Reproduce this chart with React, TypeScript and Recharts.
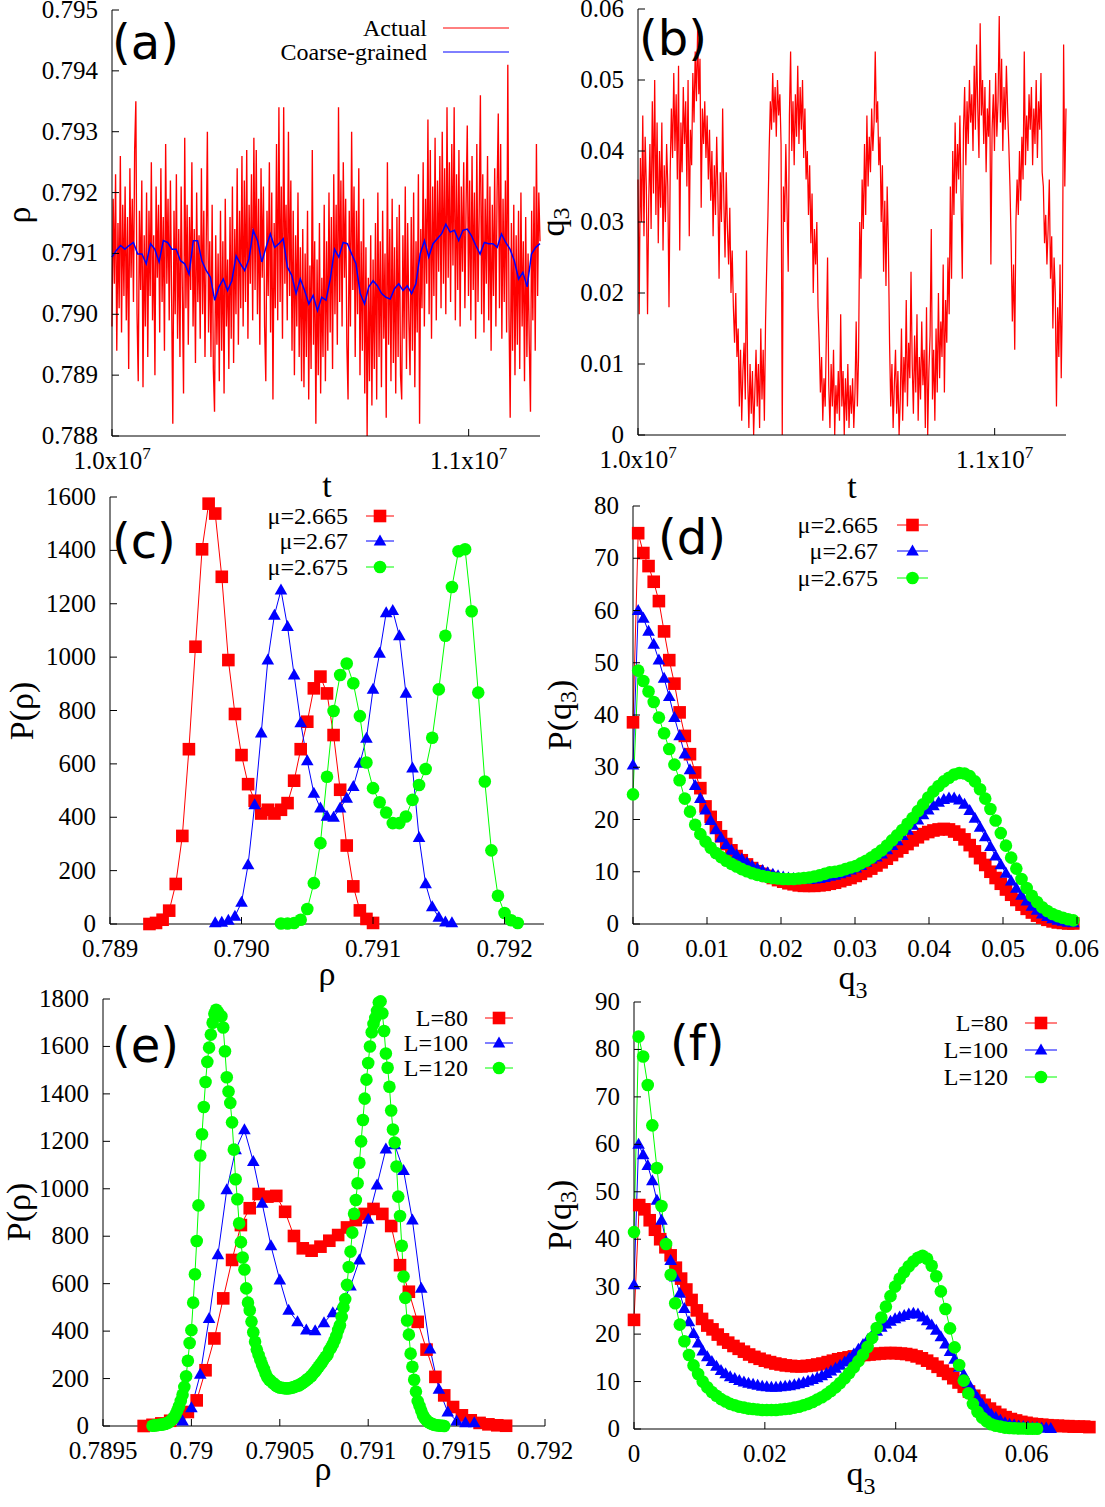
import React from 'react';
import { LineChart, Line, XAxis, YAxis, Label, Legend } from 'recharts';

const SERIF = '"Liberation Serif", "Times New Roman", Times, serif';
const SANS = '"DejaVu Sans", Verdana, sans-serif';
const RED = '#ff0000';
const BLUE = '#0000ff';
const GREEN = '#00ff00';
const INK = '#000000';

// ---------- (a) density time series ----------
const tStart = 1.0e7;
const tEnd = 1.12e7;
const rhoActual = [
  0.7898, 0.7919, 0.7905, 0.7923, 0.7894, 0.7915, 0.7901, 0.7926, 0.7897, 0.7918,
  0.7903, 0.7921, 0.7899, 0.7916, 0.7891, 0.7924, 0.7906, 0.7919, 0.7902, 0.7927,
  0.7935, 0.7900, 0.7889, 0.7917, 0.7904, 0.7922, 0.7888, 0.7913, 0.7898, 0.7920,
  0.7893, 0.7917, 0.7903, 0.7925, 0.7899, 0.7913, 0.7890, 0.7921, 0.7906, 0.7918,
  0.7897, 0.7924, 0.7902, 0.7916, 0.7894, 0.7928, 0.7905, 0.7919, 0.7899, 0.7922,
  0.7903, 0.7882, 0.7917, 0.7900, 0.7923, 0.7896, 0.7914, 0.7893, 0.7921, 0.7904,
  0.7887, 0.7929, 0.7901, 0.7918, 0.7895, 0.7916, 0.7904, 0.7925, 0.7898, 0.7914,
  0.7892, 0.7920, 0.7902, 0.7913, 0.7896, 0.7924, 0.7900, 0.7917, 0.7893, 0.7911,
  0.7930, 0.7897, 0.7912, 0.7893, 0.7918, 0.7891, 0.7884, 0.7913, 0.7895, 0.7910,
  0.7889, 0.7917, 0.7894, 0.7912, 0.7887, 0.7919, 0.7898, 0.7909, 0.7891, 0.7916,
  0.7896, 0.7921, 0.7892, 0.7914, 0.7900, 0.7924, 0.7895, 0.7917, 0.7901, 0.7926,
  0.7898, 0.7922, 0.7902, 0.7927, 0.7896, 0.7918, 0.7905, 0.7923, 0.7899, 0.7929,
  0.7904, 0.7927, 0.7900, 0.7919, 0.7895, 0.7924, 0.7906, 0.7921, 0.7898, 0.7889,
  0.7917, 0.7903, 0.7925, 0.7897, 0.7920, 0.7886, 0.7915, 0.7901, 0.7928, 0.7899,
  0.7934, 0.7902, 0.7921, 0.7896, 0.7934, 0.7905, 0.7918, 0.7899, 0.7930, 0.7903,
  0.7922, 0.7894, 0.7917, 0.7890, 0.7913, 0.7898, 0.7920, 0.7893, 0.7911, 0.7889,
  0.7914, 0.7888, 0.7910, 0.7893, 0.7917, 0.7886, 0.7908, 0.7891, 0.7927, 0.7895,
  0.7912, 0.7882, 0.7909, 0.7890, 0.7915, 0.7887, 0.7906, 0.7893, 0.7918, 0.7889,
  0.7912, 0.7894, 0.7920, 0.7897, 0.7916, 0.7891, 0.7923, 0.7900, 0.7918, 0.7895,
  0.7934, 0.7902, 0.7922, 0.7898, 0.7925, 0.7906, 0.7919, 0.7895, 0.7886, 0.7917,
  0.7898, 0.7930, 0.7904, 0.7921, 0.7893, 0.7917, 0.7900, 0.7924, 0.7890, 0.7912,
  0.7894, 0.7919, 0.7887, 0.7911, 0.7880, 0.7906, 0.7889, 0.7913, 0.7885, 0.7909,
  0.7891, 0.7915, 0.7886, 0.7920, 0.7893, 0.7912, 0.7888, 0.7917, 0.7896, 0.7910,
  0.7883, 0.7925, 0.7895, 0.7914, 0.7889, 0.7919, 0.7892, 0.7911, 0.7887, 0.7916,
  0.7893, 0.7918, 0.7890, 0.7886, 0.7913, 0.7896, 0.7921, 0.7891, 0.7915, 0.7899,
  0.7890, 0.7916, 0.7894, 0.7920, 0.7888, 0.7912, 0.7897, 0.7923, 0.7882, 0.7914,
  0.7901, 0.7925, 0.7898, 0.7919, 0.7905, 0.7932, 0.7900, 0.7927, 0.7896, 0.7921,
  0.7903, 0.7929, 0.7899, 0.7922, 0.7907, 0.7926, 0.7901, 0.7930, 0.7905, 0.7924,
  0.7900, 0.7934, 0.7906, 0.7925, 0.7902, 0.7928, 0.7908, 0.7934, 0.7899, 0.7923,
  0.7904, 0.7927, 0.7898, 0.7921, 0.7907, 0.7925, 0.7901, 0.7918, 0.7931, 0.7903,
  0.7922, 0.7899, 0.7926, 0.7904, 0.7920, 0.7896, 0.7928, 0.7902, 0.7917, 0.7936,
  0.7900, 0.7923, 0.7897, 0.7919, 0.7905, 0.7926, 0.7899, 0.7921, 0.7894, 0.7918,
  0.7903, 0.7924, 0.7898, 0.7920, 0.7933, 0.7901, 0.7928, 0.7896, 0.7919, 0.7902,
  0.7922, 0.7897, 0.7941, 0.7900, 0.7883, 0.7915, 0.7894, 0.7918, 0.7890, 0.7913,
  0.7895, 0.7917, 0.7891, 0.7920, 0.7898, 0.7912, 0.7889, 0.7916, 0.7893, 0.7910,
  0.7895, 0.7884, 0.7917, 0.7899, 0.7921, 0.7894, 0.7928, 0.7903, 0.7920, 0.7912,
];
const rhoCoarse = [
  0.79094, 0.79105, 0.79113, 0.79107, 0.79113, 0.79118, 0.79099, 0.79099, 0.79083, 0.79116,
  0.79107, 0.79086, 0.79121, 0.79118, 0.79107, 0.79107, 0.79088, 0.79083, 0.79066, 0.79121,
  0.79121, 0.79088, 0.79072, 0.79061, 0.79023, 0.79045, 0.79058, 0.79039, 0.79055, 0.79096,
  0.79083, 0.79072, 0.79091, 0.79138, 0.79121, 0.79086, 0.79110, 0.79132, 0.79110, 0.79116,
  0.79124, 0.79077, 0.79064, 0.79034, 0.79058, 0.79039, 0.79017, 0.79031, 0.79006, 0.79028,
  0.79023, 0.79058, 0.79107, 0.79094, 0.79118, 0.79116, 0.79099, 0.79083, 0.79034, 0.79017,
  0.79045, 0.79055, 0.79047, 0.79034, 0.79028, 0.79025, 0.79042, 0.79050, 0.79039, 0.79047,
  0.79034, 0.79050, 0.79099, 0.79121, 0.79094, 0.79116, 0.79124, 0.79132, 0.79148, 0.79135,
  0.79138, 0.79121, 0.79138, 0.79140, 0.79129, 0.79113, 0.79099, 0.79118, 0.79116, 0.79116,
  0.79110, 0.79132, 0.79118, 0.79107, 0.79088, 0.79058, 0.79069, 0.79045, 0.79099, 0.79110,
  0.79116,
];

// ---------- (b) q3 time series ----------
const q3Actual = [
  0.036, 0.017, 0.039, 0.030, 0.045, 0.028, 0.042, 0.035, 0.017, 0.033,
  0.041, 0.029, 0.047, 0.034, 0.050, 0.031, 0.044, 0.027, 0.040, 0.032,
  0.044, 0.026, 0.038, 0.030, 0.041, 0.035, 0.018, 0.037, 0.046, 0.039,
  0.051, 0.040, 0.048, 0.036, 0.052, 0.026, 0.044, 0.037, 0.049, 0.041,
  0.047, 0.035, 0.050, 0.028, 0.043, 0.038, 0.051, 0.044, 0.054, 0.047,
  0.057, 0.048, 0.053, 0.032, 0.046, 0.041, 0.047, 0.039, 0.045, 0.036,
  0.043, 0.033, 0.040, 0.028, 0.038, 0.031, 0.042, 0.034, 0.022, 0.037,
  0.030, 0.046, 0.033, 0.025, 0.037, 0.029, 0.024, 0.032, 0.020, 0.026,
  0.018, 0.013, 0.020, 0.011, 0.015, 0.004, 0.012, 0.002, 0.009, 0.013,
  0.005, 0.026, 0.008, 0.001, 0.010, 0.003, 0.009, 0.000, 0.006, 0.012,
  0.004, 0.010, 0.001, 0.015, 0.005, 0.012, 0.002, 0.016, 0.024, 0.031,
  0.040, 0.047, 0.043, 0.051, 0.044, 0.049, 0.042, 0.050, 0.045, 0.048,
  0.041, 0.000, 0.035, 0.030, 0.041, 0.032, 0.023, 0.045, 0.054, 0.040,
  0.047, 0.038, 0.048, 0.042, 0.052, 0.041, 0.049, 0.043, 0.050, 0.039,
  0.046, 0.036, 0.040, 0.031, 0.038, 0.027, 0.034, 0.020, 0.029, 0.024,
  0.030, 0.018, 0.013, 0.006, 0.011, 0.002, 0.008, 0.004, 0.014, 0.025,
  0.007, 0.001, 0.010, 0.004, 0.012, 0.000, 0.007, 0.003, 0.009, 0.002,
  0.017, 0.004, 0.009, 0.000, 0.008, 0.002, 0.010, 0.001, 0.007, 0.003,
  0.008, 0.001, 0.006, 0.016, 0.004, 0.011, 0.030, 0.022, 0.036, 0.029,
  0.041, 0.031, 0.045, 0.035, 0.042, 0.037, 0.046, 0.040, 0.044, 0.054,
  0.044, 0.047, 0.038, 0.042, 0.030, 0.038, 0.023, 0.033, 0.021, 0.035,
  0.027, 0.013, 0.004, 0.010, 0.001, 0.007, 0.012, 0.003, 0.009, 0.000,
  0.005, 0.015, 0.002, 0.011, 0.006, 0.019, 0.004, 0.013, 0.008, 0.023,
  0.010, 0.003, 0.014, 0.006, 0.017, 0.002, 0.011, 0.005, 0.016, 0.007,
  0.012, 0.001, 0.018, 0.000, 0.009, 0.014, 0.029, 0.005, 0.012, 0.002,
  0.015, 0.006, 0.020, 0.008, 0.016, 0.011, 0.024, 0.006, 0.019, 0.013,
  0.025, 0.017, 0.035, 0.022, 0.040, 0.031, 0.044, 0.034, 0.041, 0.036,
  0.045, 0.033, 0.022, 0.043, 0.049, 0.038, 0.047, 0.041, 0.050, 0.044,
  0.048, 0.040, 0.052, 0.043, 0.055, 0.046, 0.039, 0.058, 0.045, 0.050,
  0.041, 0.049, 0.037, 0.046, 0.042, 0.050, 0.024, 0.043, 0.048, 0.040,
  0.051, 0.042, 0.047, 0.059, 0.044, 0.053, 0.040, 0.049, 0.043, 0.052,
  0.046, 0.041, 0.035, 0.027, 0.016, 0.024, 0.012, 0.030, 0.036, 0.031,
  0.040, 0.033, 0.042, 0.036, 0.054, 0.038, 0.045, 0.040, 0.048, 0.043,
  0.049, 0.038, 0.046, 0.041, 0.050, 0.039, 0.047, 0.043, 0.051, 0.037,
  0.035, 0.027, 0.031, 0.024, 0.029, 0.036, 0.022, 0.028, 0.015, 0.025,
  0.020, 0.004, 0.018, 0.011, 0.024, 0.008, 0.020, 0.055, 0.035, 0.046,
];

// ---------- (c) P(rho) for three mu ----------
const rhoBinC = 0.00005;
const rhoFirstMu2665 = 0.7893;
const pRhoMu2665 = [
  0, 4, 16, 50, 150, 330, 655, 1039, 1404, 1575, 1538, 1301, 989, 787, 633, 524, 462, 414,
  428, 414, 428, 453, 537, 655, 758, 883, 927, 864, 708, 503, 294, 141, 51, 19, 4,
];
const rhoFirstMu267 = 0.7898;
const pRhoMu267 = [
  4, 6, 14, 29, 81, 222, 446, 715, 989, 1157, 1251, 1114, 933, 754, 611, 490, 434, 403, 400,
  434, 471, 515, 602, 696, 879, 1014, 1166, 1174, 1080, 864, 584, 324, 150, 64, 25, 7, 4,
];
const rhoFirstMu2675 = 0.7903;
const pRhoMu2675 = [
  2, 2, 4, 16, 56, 153, 303, 552, 798, 933, 976, 902, 779, 605, 509, 456, 418, 378, 378,
  403, 465, 521, 581, 698, 879, 1080, 1263, 1397, 1404, 1172, 867, 534, 276, 106, 41, 14, 4,
];

// ---------- (d) P(q3) for three mu ----------
const q3BinD = 0.0007;
const pQ3Mu2665 = [
  38.6, 74.8, 71, 68.5, 65.5, 61.8, 56, 50.5, 46, 40.5,
  36, 32.5, 29, 26, 22.5, 20.5, 18.5, 16.8, 15.3, 14.1,
  13, 12.2, 11.4, 10.7, 10.1, 9.6, 9.2, 8.8, 8.4, 8.1,
  7.8, 7.6, 7.4, 7.3, 7.3, 7.3, 7.4, 7.5, 7.7, 7.9,
  8.2, 8.5, 8.8, 9.2, 9.6, 10.1, 10.6, 11.2, 11.8, 12.5,
  13.2, 13.9, 14.6, 15.3, 16, 16.6, 17.2, 17.6, 17.9, 18.1,
  18.2, 18.1, 17.7, 17.1, 16.2, 15.1, 13.9, 12.6, 11.3, 10,
  8.8, 7.7, 6.6, 5.6, 4.6, 3.7, 2.9, 2.2, 1.6, 1.2,
  0.8, 0.5, 0.3, 0.2, 0.1, 0.1,
];
const pQ3Mu267 = [
  30.4, 60, 58.5, 56, 53.5, 50.5, 47, 43.5, 39.5, 36,
  32.5, 29.5, 26.5, 24, 21.8, 19.8, 18, 16.5, 15.2, 14.1,
  13.2, 12.4, 11.7, 11.1, 10.6, 10.2, 9.8, 9.5, 9.2, 9.0,
  8.8, 8.7, 8.6, 8.5, 8.5, 8.6, 8.7, 8.9, 9.1, 9.3,
  9.6, 9.9, 10.3, 10.7, 11.2, 11.8, 12.4, 12.8, 13.4, 14.2,
  15.0, 15.9, 16.9, 17.9, 18.9, 19.9, 20.9, 21.8, 22.6, 23.3,
  23.8, 24.1, 24.1, 23.7, 22.9, 21.7, 20.2, 18.5, 16.7, 14.8,
  13.0, 11.3, 9.7, 8.2, 6.8, 5.5, 4.4, 3.4, 2.6, 1.9,
  1.4, 1.0, 0.7, 0.5, 0.3, 0.2,
];
const pQ3Mu2675 = [
  24.8, 48.5, 46.5, 44.5, 42.5, 39.5, 36.5, 33.5, 30.5, 27.5,
  24, 21.5, 19, 17.2, 15.8, 14.6, 13.6, 12.8, 12.1, 11.5,
  11.0, 10.5, 10.1, 9.7, 9.4, 9.2, 9.0, 8.8, 8.7, 8.6,
  8.6, 8.6, 8.7, 8.8, 8.9, 9.1, 9.3, 9.6, 9.9, 10.0,
  10.2, 10.5, 10.8, 11.1, 11.6, 12.1, 12.7, 13.4, 14.1, 15.0,
  16.0, 17.0, 18.0, 19.2, 20.3, 21.6, 22.9, 24.2, 25.4, 26.4,
  27.3, 28.0, 28.6, 28.9, 28.8, 28.3, 27.3, 25.8, 24.0, 22.0,
  19.8, 17.4, 15.0, 12.7, 10.6, 8.6, 6.9, 5.4, 4.2, 3.2,
  2.5, 1.9, 1.5, 1.2, 0.9, 0.7,
];

// ---------- (e) P(rho) for three system sizes ----------
const rhoFirstL80 = 0.78973;
const rhoBinL80 = 0.00005;
const pRhoL80 = [
  0, 5, 11, 22, 36, 59, 108, 235, 369, 538, 700, 847, 918, 978, 967, 970, 903, 801, 749, 739,
  756, 781, 805, 837, 868, 894, 915, 894, 843, 678, 566, 439, 322, 207, 129, 80, 45, 24, 13, 7,
  3, 1,
];
const rhoFirstL100 = 0.78995;
const rhoBinL100 = 0.00005;
const pRhoL100 = [
  21, 77, 218, 453, 721, 995, 1164, 1248, 1115, 939, 759, 615, 488, 439, 404, 401, 435, 477,
  509, 590, 699, 871, 1016, 1167, 1185, 1077, 868, 580, 324, 155, 59, 21, 13, 13,
];
const rhoFirstL120 = 0.78978;
const rhoBinL120 = 0.00001;
const pRhoL120 = [
  1, 2, 3, 4, 5, 6, 7, 9, 11, 15,
  20, 27, 35, 48, 65, 83, 106, 132, 165, 210,
  275, 350, 404, 520, 640, 780, 930, 1140, 1230, 1345,
  1450, 1535, 1595, 1650, 1700, 1738, 1755, 1745, 1732, 1727,
  1680, 1580, 1470, 1410, 1362, 1280, 1165, 1040, 956, 854,
  775, 710, 660, 580, 520, 488, 440, 395, 355, 322,
  300, 278, 258, 240, 220, 205, 195, 189, 182, 176,
  170, 165, 162, 161, 160, 159, 158, 159, 160, 162,
  164, 167, 170, 172, 177, 182, 187, 193, 199, 205,
  212, 222, 230, 240, 250, 260, 270, 282, 292, 300,
  320, 330, 345, 362, 380, 405, 425, 460, 500, 535,
  595, 670, 735, 815, 895, 953, 1023, 1110, 1200, 1290,
  1380, 1460, 1530, 1600, 1660, 1695, 1720, 1750, 1785, 1790,
  1740, 1665, 1570, 1510, 1430, 1330, 1250, 1195, 1094, 967,
  885, 760, 630, 540, 445, 385, 305, 250, 195, 145,
  105, 85, 65, 45, 33, 24, 17, 12, 9, 6,
  4, 3, 2, 1, 1, 0,
];

// ---------- (f) P(q3) for three system sizes ----------
const q3BinL80 = 0.0008;
const pQ3L80 = [
  23, 47.2, 46.3, 44, 42, 40, 38.3, 36.6, 34, 31.7,
  29.4, 27.2, 25, 23.2, 21.8, 21, 19.9, 18.9, 18.2, 17.5,
  16.9, 16.3, 15.7, 15.2, 14.8, 14.4, 14.1, 13.8, 13.6, 13.4,
  13.3, 13.2, 13.2, 13.3, 13.4, 13.6, 13.8, 14.1, 14.4, 14.7,
  14.9, 15.1, 15.3, 15.4, 15.6, 15.7, 15.8, 15.9, 16, 16,
  16, 15.9, 15.8, 15.6, 15.3, 14.9, 14.4, 13.8, 13.1, 12.3,
  11.6, 10.7, 9.8, 8.9, 7.9, 7, 6, 5.1, 4.3, 3.6,
  3, 2.5, 2.1, 1.8, 1.5, 1.3, 1.1, 1, 0.9, 0.8,
  0.7, 0.7, 0.6, 0.6, 0.5, 0.5, 0.5, 0.4,
];
const q3BinL100 = 0.0007;
const pQ3L100 = [
  30.4, 60, 57.8, 55.5, 52.3, 48.2, 44, 39.5, 35.5, 32,
  28.6, 25.4, 22.6, 20.1, 18.1, 16.4, 15.2, 14.2, 13.2, 12.3,
  11.6, 11.0, 10.6, 10.2, 9.9, 9.6, 9.4, 9.2, 9.0, 8.9,
  8.8, 8.8, 8.9, 9.0, 9.1, 9.3, 9.5, 9.8, 10.1, 10.4,
  10.8, 11.2, 11.7, 12.2, 12.8, 13.4, 14.1, 14.9, 15.8, 16.8,
  17.8, 18.8, 19.8, 20.6, 21.4, 22.1, 22.7, 23.2, 23.6, 23.9,
  24.2, 24.4, 24.2, 23.6, 22.8, 21.9, 20.8, 19.4, 17.9, 16.3,
  14.7, 13, 11.4, 9.6, 8, 6.5, 5.2, 4.1, 3.1, 2.4,
  1.8, 1.3, 1.0, 0.8, 0.6, 0.5, 0.4, 0.3, 0.3, 0.2,
  0.2, 0.1,
];
const q3BinL120 = 0.0007;
const pQ3L120 = [
  41.5, 82.7, 78.5, 72.5, 64, 55, 47, 39, 32.5, 26.5,
  22, 18.5, 15.6, 13.4, 11.6, 10, 8.8, 7.8, 7.0, 6.3,
  5.8, 5.3, 5.0, 4.7, 4.5, 4.3, 4.2, 4.1, 4.0, 4.0,
  4.0, 4.0, 4.1, 4.2, 4.3, 4.5, 4.7, 5.0, 5.3, 5.7,
  6.2, 6.7, 7.3, 8.0, 8.8, 9.7, 10.7, 11.8, 13.0, 14.3,
  15.7, 17.3, 19.2, 21.3, 23.5, 25.8, 28, 30, 31.7, 33.1,
  34.3, 35.3, 36.1, 36.5, 35.9, 34.4, 32.2, 29, 25.3, 21.2,
  17.2, 13.5, 10.2, 7.5, 5.3, 3.6, 2.4, 1.6, 1.0, 0.7,
  0.5, 0.3, 0.2, 0.15, 0.1, 0.1, 0.05, 0.05, 0.05,
];

// ---------- tick values and labels ----------
const tTicks = [1.0e7, 1.1e7];
const tTickMantissas = ['1.0x10', '1.1x10'];
const tTickExponent = '7';
const rhoTicksA = [0.788, 0.789, 0.79, 0.791, 0.792, 0.793, 0.794, 0.795];
const rhoTickLabelsA = ['0.788', '0.789', '0.790', '0.791', '0.792', '0.793', '0.794', '0.795'];
const q3TicksB = [0, 0.01, 0.02, 0.03, 0.04, 0.05, 0.06];
const q3TickLabelsB = ['0', '0.01', '0.02', '0.03', '0.04', '0.05', '0.06'];
const rhoTicksC = [0.789, 0.79, 0.791, 0.792];
const rhoTickLabelsC = ['0.789', '0.790', '0.791', '0.792'];
const pTicksC = [0, 200, 400, 600, 800, 1000, 1200, 1400, 1600];
const pTickLabelsC = ['0', '200', '400', '600', '800', '1000', '1200', '1400', '1600'];
const q3TicksD = [0, 0.01, 0.02, 0.03, 0.04, 0.05, 0.06];
const q3TickLabelsD = ['0', '0.01', '0.02', '0.03', '0.04', '0.05', '0.06'];
const pTicksD = [0, 10, 20, 30, 40, 50, 60, 70, 80];
const pTickLabelsD = ['0', '10', '20', '30', '40', '50', '60', '70', '80'];
const rhoTicksE = [0.7895, 0.79, 0.7905, 0.791, 0.7915, 0.792];
const rhoTickLabelsE = ['0.7895', '0.79', '0.7905', '0.791', '0.7915', '0.792'];
const pTicksE = [0, 200, 400, 600, 800, 1000, 1200, 1400, 1600, 1800];
const pTickLabelsE = ['0', '200', '400', '600', '800', '1000', '1200', '1400', '1600', '1800'];
const q3TicksF = [0, 0.02, 0.04, 0.06];
const q3TickLabelsF = ['0', '0.02', '0.04', '0.06'];
const pTicksF = [0, 10, 20, 30, 40, 50, 60, 70, 80, 90];
const pTickLabelsF = ['0', '10', '20', '30', '40', '50', '60', '70', '80', '90'];

// ---------- helpers ----------
type Pt = { x: number; y: number };
type Marker = 'square' | 'triangle' | 'circle' | 'none';
type Series = { name: string; color: string; marker: Marker; width: number; data: Pt[] };
type Title = { node: React.ReactNode; x: number; y: number };
type PanelSpec = {
  plot: { left: number; top: number; width: number; height: number };
  xDomain: [number, number];
  xTicks: number[];
  xLabels: React.ReactNode[];
  yDomain: [number, number];
  yTicks: number[];
  yLabels: string[];
  series: Series[];
  letter: { text: string; x: number; y: number };
  xTitle: Title;
  yTitle: Title;
  legend?: { textRight: number; rowY: number[]; lineX1: number; lineX2: number };
};

const timed = (values: number[]): Pt[] =>
  values.map((y, i) => ({ x: tStart + (i * (tEnd - tStart)) / (values.length - 1), y }));
const binned = (first: number, step: number, values: number[]): Pt[] =>
  values.map((y, i) => ({ x: +(first + i * step).toFixed(8), y }));

const tLabels = tTickMantissas.map((m) => (
  <>
    {m}
    <tspan dy={-10} fontSize={17}>{tTickExponent}</tspan>
  </>
));
const q3Title = (
  <>
    q<tspan dy={9} fontSize={24}>3</tspan>
  </>
);
const pq3Title = (
  <>
    P(q<tspan dy={9} fontSize={24}>3</tspan>
    <tspan dy={-9}>)</tspan>
  </>
);

function MarkerShape({ kind, cx, cy, color }: { kind: Marker; cx: number; cy: number; color: string }) {
  if (kind === 'square') return <rect x={cx - 6.3} y={cy - 6.3} width={12.6} height={12.6} fill={color} />;
  if (kind === 'triangle')
    return <polygon points={`${cx},${cy - 6.6} ${cx + 6.3},${cy + 4.4} ${cx - 6.3},${cy + 4.4}`} fill={color} />;
  if (kind === 'circle') return <circle cx={cx} cy={cy} r={6.3} fill={color} />;
  return null;
}

const LW = 120;
const MT = 16;
const MR = 30;
const BH = 80;
const TICK = 7;
const TICK_FONT = 25;
const serifStyle = { fontFamily: SERIF };

function Panel({ spec }: { spec: PanelSpec }) {
  const { plot, legend } = spec;
  const chartLeft = plot.left - LW;
  const chartTop = plot.top - MT;
  const cw = LW + plot.width + MR;
  const ch = MT + plot.height + BH;
  const sx = (x: number) => x - chartLeft;
  const sy = (y: number) => y - chartTop;
  const plotTop = MT;
  const plotBottom = MT + plot.height;
  const plotLeft = LW;
  const plotRight = LW + plot.width;
  const findIdx = (ticks: number[], v: number) => ticks.findIndex((t) => Math.abs(t - v) < 1e-9);

  const bottomTick = (p: any) => {
    const i = findIdx(spec.xTicks, p.payload?.value);
    return (
      <g>
        <line x1={p.x} x2={p.x} y1={plotBottom} y2={plotBottom - TICK} stroke={INK} strokeWidth={1} />
        <text x={p.x} y={plotBottom + 33} textAnchor="middle" fontFamily={SERIF} style={serifStyle} fontSize={TICK_FONT} fill={INK}>
          {i >= 0 ? spec.xLabels[i] : null}
        </text>
      </g>
    );
  };
  const topTick = (p: any) => (
    <line x1={p.x} x2={p.x} y1={plotTop} y2={plotTop + TICK} stroke={INK} strokeWidth={1} />
  );
  const leftTick = (p: any) => {
    const i = findIdx(spec.yTicks, p.payload?.value);
    return (
      <g>
        <line x1={plotLeft} x2={plotLeft + TICK} y1={p.y} y2={p.y} stroke={INK} strokeWidth={1} />
        <text x={plotLeft - 14} y={p.y + 8} textAnchor="end" fontFamily={SERIF} style={serifStyle} fontSize={TICK_FONT} fill={INK}>
          {i >= 0 ? spec.yLabels[i] : null}
        </text>
      </g>
    );
  };
  const rightTick = (p: any) => (
    <line x1={plotRight} x2={plotRight - TICK} y1={p.y} y2={p.y} stroke={INK} strokeWidth={1} />
  );

  const decorations = () => (
    <g>
      <text x={sx(spec.letter.x)} y={sy(spec.letter.y)} fontFamily={SANS} style={{ fontFamily: SANS }} fontSize={48} fill={INK}>
        {spec.letter.text}
      </text>
      <text x={sx(spec.xTitle.x)} y={sy(spec.xTitle.y)} textAnchor="middle" fontFamily={SERIF} style={serifStyle} fontSize={34} fill={INK}>
        {spec.xTitle.node}
      </text>
      <text
        x={sx(spec.yTitle.x)}
        y={sy(spec.yTitle.y)}
        transform={`rotate(-90 ${sx(spec.yTitle.x)} ${sy(spec.yTitle.y)})`}
        textAnchor="middle"
        dominantBaseline="central"
        fontFamily={SERIF}
        style={serifStyle}
        fontSize={34}
        fill={INK}
      >
        {spec.yTitle.node}
      </text>
    </g>
  );

  const legendContent = () => {
    if (!legend) return null;
    const len = legend.lineX2 - legend.lineX1;
    return (
      <div style={{ position: 'relative', width: cw, height: ch, pointerEvents: 'none' }}>
        {spec.series.map((s, i) => {
          const y = sy(legend.rowY[i]);
          return (
            <React.Fragment key={s.name}>
              <div
                style={{
                  position: 'absolute',
                  left: 0,
                  width: sx(legend.textRight),
                  top: y - 15,
                  height: 30,
                  lineHeight: '30px',
                  textAlign: 'right',
                  fontFamily: SERIF,
                  fontSize: 24,
                  color: INK,
                  whiteSpace: 'nowrap',
                }}
              >
                {s.name}
              </div>
              <svg
                style={{ position: 'absolute', left: sx(legend.lineX1) - 8, top: y - 10, overflow: 'visible' }}
                width={len + 16}
                height={20}
              >
                <line x1={8} x2={8 + len} y1={10} y2={10} stroke={s.color} strokeWidth={1} />
                <MarkerShape kind={s.marker} cx={8 + len / 2} cy={10} color={s.color} />
              </svg>
            </React.Fragment>
          );
        })}
      </div>
    );
  };

  return (
    <div style={{ position: 'absolute', left: chartLeft, top: chartTop, width: cw, height: ch }}>
      <LineChart width={cw} height={ch} margin={{ top: MT, right: MR, bottom: 0, left: 0 }}>
        <XAxis
          xAxisId="bottom"
          dataKey="x"
          type="number"
          orientation="bottom"
          domain={spec.xDomain}
          ticks={spec.xTicks}
          interval={0}
          height={BH}
          tickLine={false}
          tickSize={0}
          tickMargin={0}
          axisLine={{ stroke: INK, strokeWidth: 1 }}
          tick={bottomTick}
        >
          <Label content={decorations} />
        </XAxis>
        <XAxis
          xAxisId="top"
          type="number"
          orientation="top"
          domain={spec.xDomain}
          ticks={spec.xTicks}
          interval={0}
          height={0}
          tickLine={false}
          tickSize={0}
          tickMargin={0}
          axisLine={{ stroke: INK, strokeWidth: 1 }}
          tick={topTick}
        />
        <YAxis
          yAxisId="left"
          type="number"
          orientation="left"
          domain={spec.yDomain}
          ticks={spec.yTicks}
          interval={0}
          width={LW}
          tickLine={false}
          tickSize={0}
          tickMargin={0}
          axisLine={{ stroke: INK, strokeWidth: 1 }}
          tick={leftTick}
        />
        <YAxis
          yAxisId="right"
          type="number"
          orientation="right"
          domain={spec.yDomain}
          ticks={spec.yTicks}
          interval={0}
          width={0}
          tickLine={false}
          tickSize={0}
          tickMargin={0}
          axisLine={{ stroke: INK, strokeWidth: 1 }}
          tick={rightTick}
        />
        {spec.series.map((s) => (
          <Line
            key={s.name}
            name={s.name}
            xAxisId="bottom"
            yAxisId="left"
            data={s.data}
            dataKey="y"
            type="linear"
            stroke={s.color}
            strokeWidth={s.width}
            isAnimationActive={false}
            activeDot={false}
            dot={
              s.marker === 'none'
                ? false
                : (p: any) => (
                    <MarkerShape key={`${s.name}-${p.index}`} kind={s.marker} cx={p.cx} cy={p.cy} color={s.color} />
                  )
            }
          />
        ))}
        {legend ? (
          <Legend
            layout="vertical"
            align="center"
            verticalAlign="middle"
            wrapperStyle={{ position: 'absolute', left: 0, top: 0, width: cw, height: ch, margin: 0, pointerEvents: 'none' }}
            content={legendContent}
          />
        ) : null}
      </LineChart>
    </div>
  );
}

// ---------- panel definitions ----------
const panels: PanelSpec[] = [
  {
    plot: { left: 112, top: 10, width: 428, height: 426 },
    xDomain: [tStart, tEnd],
    xTicks: tTicks,
    xLabels: tLabels,
    yDomain: [0.788, 0.795],
    yTicks: rhoTicksA,
    yLabels: rhoTickLabelsA,
    series: [
      { name: 'Actual', color: RED, marker: 'none', width: 1.35, data: timed(rhoActual) },
      { name: 'Coarse-grained', color: BLUE, marker: 'none', width: 1.5, data: timed(rhoCoarse) },
    ],
    letter: { text: '(a)', x: 112, y: 59 },
    xTitle: { node: 't', x: 327, y: 497 },
    yTitle: { node: 'ρ', x: 18, y: 215 },
    legend: { textRight: 427, rowY: [28, 52], lineX1: 443, lineX2: 509 },
  },
  {
    plot: { left: 638, top: 9, width: 428, height: 426 },
    xDomain: [tStart, tEnd],
    xTicks: tTicks,
    xLabels: tLabels,
    yDomain: [0, 0.06],
    yTicks: q3TicksB,
    yLabels: q3TickLabelsB,
    series: [{ name: 'q3', color: RED, marker: 'none', width: 1.25, data: timed(q3Actual) }],
    letter: { text: '(b)', x: 639, y: 55 },
    xTitle: { node: 't', x: 852, y: 498 },
    yTitle: { node: q3Title, x: 552, y: 222 },
  },
  {
    plot: { left: 110, top: 497, width: 434, height: 427 },
    xDomain: [0.789, 0.7923],
    xTicks: rhoTicksC,
    xLabels: rhoTickLabelsC,
    yDomain: [0, 1600],
    yTicks: pTicksC,
    yLabels: pTickLabelsC,
    series: [
      { name: 'μ=2.665', color: RED, marker: 'square', width: 1, data: binned(rhoFirstMu2665, rhoBinC, pRhoMu2665) },
      { name: 'μ=2.67', color: BLUE, marker: 'triangle', width: 1, data: binned(rhoFirstMu267, rhoBinC, pRhoMu267) },
      { name: 'μ=2.675', color: GREEN, marker: 'circle', width: 1, data: binned(rhoFirstMu2675, rhoBinC, pRhoMu2675) },
    ],
    letter: { text: '(c)', x: 112, y: 558 },
    xTitle: { node: 'ρ', x: 327, y: 985 },
    yTitle: { node: 'P(ρ)', x: 21, y: 711 },
    legend: { textRight: 348, rowY: [516, 541, 567], lineX1: 366, lineX2: 394 },
  },
  {
    plot: { left: 633, top: 506, width: 444, height: 418 },
    xDomain: [0, 0.06],
    xTicks: q3TicksD,
    xLabels: q3TickLabelsD,
    yDomain: [0, 80],
    yTicks: pTicksD,
    yLabels: pTickLabelsD,
    series: [
      { name: 'μ=2.665', color: RED, marker: 'square', width: 1, data: binned(0, q3BinD, pQ3Mu2665) },
      { name: 'μ=2.67', color: BLUE, marker: 'triangle', width: 1, data: binned(0, q3BinD, pQ3Mu267) },
      { name: 'μ=2.675', color: GREEN, marker: 'circle', width: 1, data: binned(0, q3BinD, pQ3Mu2675) },
    ],
    letter: { text: '(d)', x: 658, y: 554 },
    xTitle: { node: q3Title, x: 853, y: 989 },
    yTitle: { node: pq3Title, x: 559, y: 715 },
    legend: { textRight: 878, rowY: [525, 551, 578], lineX1: 897, lineX2: 928 },
  },
  {
    plot: { left: 103, top: 999, width: 442, height: 427 },
    xDomain: [0.7895, 0.792],
    xTicks: rhoTicksE,
    xLabels: rhoTickLabelsE,
    yDomain: [0, 1800],
    yTicks: pTicksE,
    yLabels: pTickLabelsE,
    series: [
      { name: 'L=80', color: RED, marker: 'square', width: 1, data: binned(rhoFirstL80, rhoBinL80, pRhoL80) },
      { name: 'L=100', color: BLUE, marker: 'triangle', width: 1, data: binned(rhoFirstL100, rhoBinL100, pRhoL100) },
      { name: 'L=120', color: GREEN, marker: 'circle', width: 1, data: binned(rhoFirstL120, rhoBinL120, pRhoL120) },
    ],
    letter: { text: '(e)', x: 112, y: 1062 },
    xTitle: { node: 'ρ', x: 323, y: 1480 },
    yTitle: { node: 'P(ρ)', x: 18, y: 1212 },
    legend: { textRight: 468, rowY: [1018, 1043, 1068], lineX1: 485, lineX2: 513 },
  },
  {
    plot: { left: 634, top: 1002, width: 458, height: 427 },
    xDomain: [0, 0.07],
    xTicks: q3TicksF,
    xLabels: q3TickLabelsF,
    yDomain: [0, 90],
    yTicks: pTicksF,
    yLabels: pTickLabelsF,
    series: [
      { name: 'L=80', color: RED, marker: 'square', width: 1, data: binned(0, q3BinL80, pQ3L80) },
      { name: 'L=100', color: BLUE, marker: 'triangle', width: 1, data: binned(0, q3BinL100, pQ3L100) },
      { name: 'L=120', color: GREEN, marker: 'circle', width: 1, data: binned(0, q3BinL120, pQ3L120) },
    ],
    letter: { text: '(f)', x: 670, y: 1060 },
    xTitle: { node: q3Title, x: 861, y: 1485 },
    yTitle: { node: pq3Title, x: 559, y: 1215 },
    legend: { textRight: 1008, rowY: [1023, 1050, 1077], lineX1: 1025, lineX2: 1057 },
  },
];

export default function App() {
  return (
    <div
      style={{
        position: 'absolute',
        left: 0,
        top: 0,
        width: 1105,
        height: 1507,
        background: '#ffffff',
        overflow: 'hidden',
      }}
    >
      {panels.map((p, i) => (
        <Panel key={i} spec={p} />
      ))}
    </div>
  );
}
